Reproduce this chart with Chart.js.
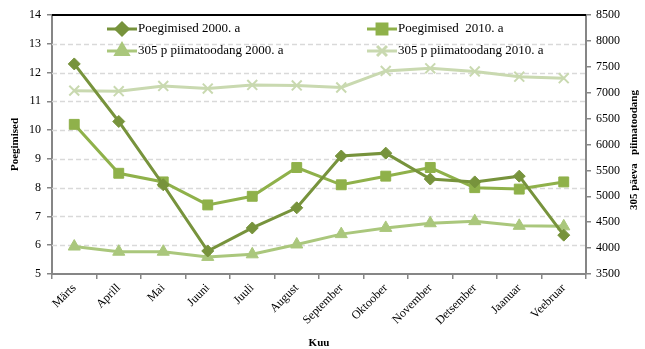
<!DOCTYPE html>
<html>
<head>
<meta charset="utf-8">
<script src="https://cdn.jsdelivr.net/npm/chart.js@4/dist/chart.umd.min.js"></script>
<style>
  body { margin: 0; background: #fff; }
  canvas { display: block; }
</style>
</head>
<body>
<canvas id="poegimisedChart" width="645" height="349"></canvas>
<script>
// data
var months = ['Märts', 'Aprill', 'Mai', 'Juuni', 'Juuli', 'August', 'September', 'Oktoober', 'November', 'Detsember', 'Jaanuar', 'Veebruar'];
var poeg2000 = [12.3, 10.3, 8.1, 5.8, 6.6, 7.3, 9.1, 9.2, 8.3, 8.2, 8.4, 6.35];
var poeg2010 = [10.2, 8.5, 8.2, 7.4, 7.7, 8.7, 8.1, 8.4, 8.7, 8.0, 7.95, 8.2];
var piim2000 = [4030, 3930, 3930, 3830, 3880, 4070, 4270, 4390, 4480, 4520, 4430, 4420];
var piim2010 = [7040, 7030, 7130, 7080, 7150, 7140, 7100, 7420, 7470, 7410, 7310, 7280];
var seriesLabels = ['Poegimised 2000. a', 'Poegimised  2010. a', '305 p piimatoodang 2000. a', '305 p piimatoodang 2010. a'];

var serif = '"Liberation Serif", "DejaVu Serif", serif';
var axisGrey = '#868686';

// legend, axis titles, dashed grid and top border
var decorPlugin = {
  id: 'decor',
  beforeDatasetsDraw: function (chart) {
    var ctx = chart.ctx;
    var area = chart.chartArea;
    var y = chart.scales.y;
    ctx.save();
    ctx.strokeStyle = '#d9d9d9';
    ctx.lineWidth = 1.5;
    ctx.setLineDash([5, 3]);
    y.ticks.forEach(function (t) {
      if (t.value <= y.min || t.value >= y.max) return;
      var py = Math.round(y.getPixelForValue(t.value)) + 0.5;
      ctx.beginPath();
      ctx.moveTo(area.left, py);
      ctx.lineTo(area.right, py);
      ctx.stroke();
    });
    ctx.setLineDash([]);
    ctx.strokeStyle = '#000';
    ctx.lineWidth = 2;
    ctx.beginPath();
    ctx.moveTo(area.left, area.top);
    ctx.lineTo(area.right, area.top);
    ctx.stroke();
    ctx.restore();
  },
  afterDraw: function (chart) {
    var ctx = chart.ctx;
    var area = chart.chartArea;
    ctx.save();

    // axis titles
    ctx.fillStyle = '#000';
    ctx.font = 'bold 11px ' + serif;
    ctx.textAlign = 'center';
    ctx.textBaseline = 'middle';
    ctx.fillText('Kuu', (area.left + area.right) / 2, 343);

    ctx.save();
    ctx.translate(15, (area.top + area.bottom) / 2);
    ctx.rotate(-Math.PI / 2);
    ctx.fillText('Poegimised', 0, 0);
    ctx.restore();

    ctx.save();
    ctx.translate(634, 150);
    ctx.rotate(-Math.PI / 2);
    ctx.fillText('305 päeva   piimatoodang', 0, 0);
    ctx.restore();

    // legend inside the plot
    var spots = [[107, 29], [367, 29], [107, 51], [367, 51]];
    ctx.font = '13px ' + serif;
    ctx.textAlign = 'left';
    chart.data.datasets.forEach(function (ds, i) {
      var x = spots[i][0], yy = spots[i][1];
      ctx.strokeStyle = ds.borderColor;
      ctx.lineWidth = 3;
      ctx.beginPath();
      ctx.moveTo(x, yy);
      ctx.lineTo(x + 30, yy);
      ctx.stroke();
      ctx.fillStyle = ds.pointBackgroundColor;
      ctx.strokeStyle = ds.pointBorderColor;
      Chart.helpers.drawPoint(ctx, {
        pointStyle: ds.pointStyle,
        radius: ds.pointRadius,
        rotation: 0,
        borderWidth: ds.pointBorderWidth
      }, x + 15, yy);
      ctx.fillStyle = '#000';
      ctx.fillText(ds.label, x + 31, yy);
    });
    ctx.restore();
  }
};

var ctx = document.getElementById('poegimisedChart').getContext('2d');
var chart = new Chart(ctx, {
  type: 'line',
  data: {
    labels: months,
    datasets: [
      {
        label: seriesLabels[0],
        data: poeg2000,
        yAxisID: 'y',
        borderColor: '#77933c',
        borderWidth: 3,
        pointStyle: 'rectRot',
        pointRadius: 6,
        pointBackgroundColor: '#77933c',
        pointBorderColor: '#77933c',
        pointBorderWidth: 1,
        order: 1
      },
      {
        label: seriesLabels[1],
        data: poeg2010,
        yAxisID: 'y',
        borderColor: '#8fb14a',
        borderWidth: 3,
        pointStyle: 'rect',
        pointRadius: 7,
        pointBackgroundColor: '#8fb14a',
        pointBorderColor: '#8fb14a',
        pointBorderWidth: 1,
        order: 2
      },
      {
        label: seriesLabels[2],
        data: piim2000,
        yAxisID: 'y1',
        borderColor: '#aac77c',
        borderWidth: 3,
        pointStyle: 'triangle',
        pointRadius: 7,
        pointBackgroundColor: '#aac77c',
        pointBorderColor: '#aac77c',
        pointBorderWidth: 1,
        order: 3
      },
      {
        label: seriesLabels[3],
        data: piim2010,
        yAxisID: 'y1',
        borderColor: '#c9d9b0',
        borderWidth: 3,
        pointStyle: 'crossRot',
        pointRadius: 7,
        pointBackgroundColor: '#c9d9b0',
        pointBorderColor: '#c9d9b0',
        pointBorderWidth: 2,
        order: 4
      }
    ]
  },
  options: {
    responsive: false,
    animation: false,
    layout: { padding: { top: 15, left: 0, right: 0, bottom: 0 } },
    plugins: {
      legend: { display: false },
      tooltip: { enabled: false }
    },
    scales: {
      x: {
        offset: true,
        grid: { offset: true, drawOnChartArea: false, color: axisGrey, tickLength: 5, lineWidth: 1.5 },
        border: { color: axisGrey, width: 2 },
        ticks: {
          minRotation: 45,
          maxRotation: 45,
          padding: 2,
          color: '#000',
          font: { family: serif, size: 12 }
        },
        afterFit: function (s) { s.height = 75; }
      },
      y: {
        position: 'left',
        min: 5,
        max: 14,
        ticks: { stepSize: 1, padding: 6, color: '#000', font: { family: serif, size: 12 } },
        grid: { drawOnChartArea: false, color: axisGrey, tickLength: 5, lineWidth: 1.5 },
        border: { color: axisGrey, width: 2 },
        afterFit: function (s) { s.width = 52; }
      },
      y1: {
        position: 'right',
        min: 3500,
        max: 8500,
        ticks: {
          stepSize: 500,
          padding: 5,
          color: '#000',
          font: { family: serif, size: 12 },
          callback: function (value) { return String(value); }
        },
        grid: { drawOnChartArea: false, color: axisGrey, tickLength: 5, lineWidth: 1.5 },
        border: { color: axisGrey, width: 2 },
        afterFit: function (s) { s.width = 59; }
      }
    }
  },
  plugins: [decorPlugin]
});
</script>
</body>
</html>
